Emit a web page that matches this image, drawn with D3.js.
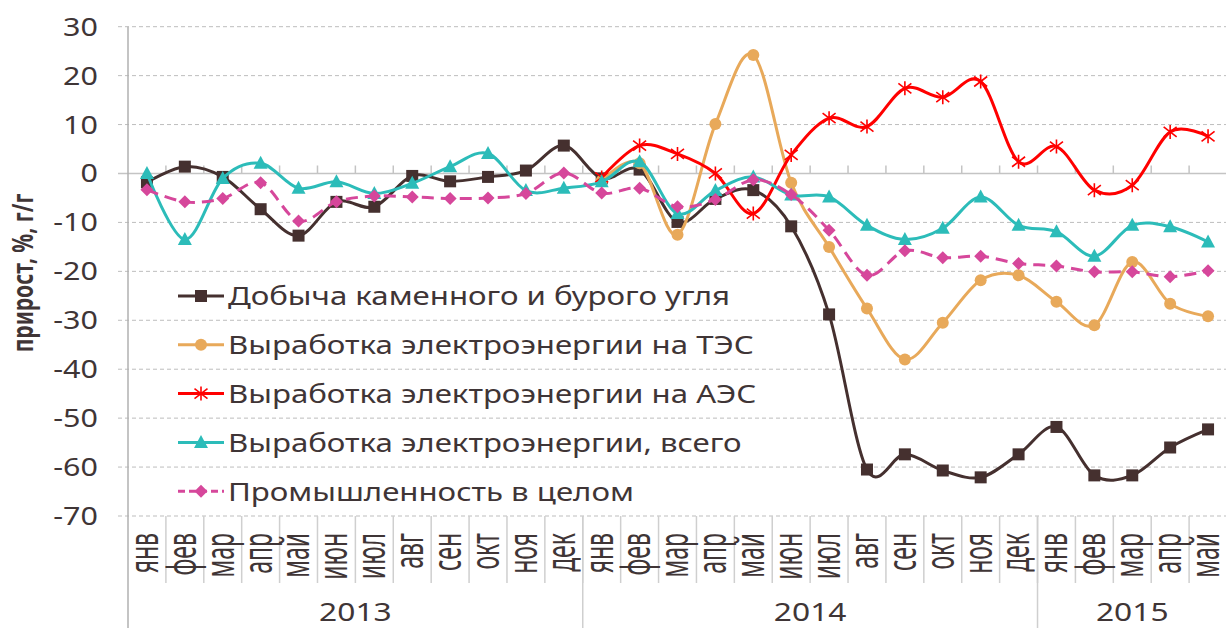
<!DOCTYPE html>
<html>
<head>
<meta charset="utf-8">
<script src="https://cdn.jsdelivr.net/npm/d3@7"></script>
<style>
  body { margin: 0; background: #fff; }
  text { font-family: "Noto Sans", "Open Sans", sans-serif; fill: #3f3536; }
</style>
</head>
<body>
<div id="container"></div>
<script>
// months and years on the category axis
const months = ["янв","фев","мар","апр","май","июн","июл","авг","сен","окт","ноя","дек",
                "янв","фев","мар","апр","май","июн","июл","авг","сен","окт","ноя","дек",
                "янв","фев","мар","апр","май"];
const years = [{label: "2013", from: 0, to: 12}, {label: "2014", from: 12, to: 24}, {label: "2015", from: 24, to: 29}];
const yTicks = [30, 20, 10, 0, -10, -20, -30, -40, -50, -60, -70];

// series values, %, y/y
const coal = [-1.8, 1.4, -0.7, -7.3, -12.7, -5.8, -6.8, -0.5, -1.6, -0.7, 0.6, 5.7,
              -1.0, 0.8, -9.9, -5.2, -3.4, -10.8, -28.8, -60.5, -57.4, -60.7, -62.1, -57.4,
              -51.8, -61.7, -61.7, -56.0, -52.3];
const tpp = [null, null, null, null, null, null, null, null, null, null, null, null,
             -1.5, 2.1, -12.5, 10.1, 24.2, -1.9, -15.0, -27.6, -38.0, -30.5, -21.8, -20.8,
             -26.2, -31.0, -18.1, -26.6, -29.2];
const npp = [null, null, null, null, null, null, null, null, null, null, null, null,
             -0.8, 5.7, 4.0, 0.0, -8.2, 3.8, 11.3, 9.6, 17.4, 15.6, 18.8, 2.4,
             5.5, -3.4, -2.4, 8.5, 7.6];
const power = [0.0, -13.5, -1.0, 2.1, -3.0, -1.7, -4.1, -2.0, 1.4, 4.1, -3.5, -3.0,
               -1.7, 2.4, -8.2, -3.5, -0.7, -4.4, -4.8, -10.6, -13.5, -11.2, -4.8, -10.6,
               -11.9, -16.9, -10.6, -10.9, -14.0];
const industry = [-3.3, -5.8, -5.1, -1.9, -9.7, -5.8, -4.6, -4.8, -5.1, -5.0, -4.1, 0.1,
                  -4.0, -3.0, -6.8, -5.3, -1.3, -4.3, -11.6, -20.8, -15.8, -17.2, -16.9, -18.4,
                  -18.9, -20.1, -20.1, -21.1, -19.9];

const seriesNames = ["Добыча каменного и бурого угля", "Выработка электроэнергии на ТЭС",
                     "Выработка электроэнергии на АЭС", "Выработка электроэнергии, всего",
                     "Промышленность в целом"];

document.addEventListener("DOMContentLoaded", function () {
    const width = 1226, height = 628;
    const left = 128, right = 1227, top = 26.7, bottom = 516;
    const sx = 1.22; // the source picture is stretched horizontally

    const svg = d3.select("#container").append("svg")
        .attr("width", width).attr("height", height);

    const series = [
        {name: seriesNames[0], values: coal, color: "#45302f", marker: "square", dash: null},
        {name: seriesNames[1], values: tpp, color: "#e8a95a", marker: "circle", dash: null},
        {name: seriesNames[2], values: npp, color: "#ff0000", marker: "star", dash: null},
        {name: seriesNames[3], values: power, color: "#2cbcb9", marker: "triangle", dash: null},
        {name: seriesNames[4], values: industry, color: "#d6479b", marker: "diamond", dash: "12,7"}
    ];

    //----------------------------SCALES-----------------------------//
    const xBand = d3.scaleBand().domain(d3.range(months.length)).range([left, right]);
    const xScale = i => xBand(i) + xBand.bandwidth() / 2;
    const yScale = d3.scaleLinear().domain([-70, 30]).range([bottom, top]);

    //----------------------------GRID-------------------------------//
    svg.append("g").selectAll("line")
        .data(yTicks.filter(d => d !== 0))
        .enter().append("line")
        .attr("x1", left - 10).attr("x2", right)
        .attr("y1", d => yScale(d)).attr("y2", d => yScale(d))
        .attr("stroke", "#bdbdbd").attr("stroke-width", 1)
        .attr("stroke-dasharray", "4,3");

    // category axis at zero with ticks above
    const bounds = d3.range(1, months.length + 1).map(i => left + i * xBand.bandwidth());
    svg.append("line")
        .attr("x1", left - 10).attr("x2", right)
        .attr("y1", yScale(0)).attr("y2", yScale(0))
        .attr("stroke", "#c4c4c4").attr("stroke-width", 1.5);
    svg.append("g").selectAll("line").data(bounds).enter().append("line")
        .attr("x1", d => d).attr("x2", d => d)
        .attr("y1", yScale(0) - 8).attr("y2", yScale(0))
        .attr("stroke", "#c4c4c4").attr("stroke-width", 1.5);

    // y axis line
    svg.append("line")
        .attr("x1", left).attr("x2", left).attr("y1", top).attr("y2", height)
        .attr("stroke", "#b0b0b0").attr("stroke-width", 1.5);

    // separators under the plot
    svg.append("g").selectAll("line").data(bounds).enter().append("line")
        .attr("x1", d => d).attr("x2", d => d)
        .attr("y1", bottom).attr("y2", 583)
        .attr("stroke", "#cfcfcf").attr("stroke-width", 1.5);
    svg.append("g").selectAll("line").data(years.slice(1)).enter().append("line")
        .attr("x1", d => xBand(d.from)).attr("x2", d => xBand(d.from))
        .attr("y1", bottom).attr("y2", height)
        .attr("stroke", "#cfcfcf").attr("stroke-width", 1.5);

    //-----------------------------TEXT------------------------------//
    svg.append("g").selectAll("text").data(yTicks).enter().append("text")
        .attr("transform", d => "translate(98," + yScale(d) + ") scale(" + sx + ",1)")
        .attr("text-anchor", "end").attr("dy", "0.36em")
        .style("font-size", "25px")
        .text(d => d);

    svg.append("text")
        .attr("transform", "translate(27,273) scale(1.4,1) rotate(-90)")
        .attr("text-anchor", "middle").attr("dy", "0.2em")
        .style("font-size", "21px").style("font-weight", "bold")
        .text("прирост, %, г/г");

    svg.append("g").selectAll("text").data(months).enter().append("text")
        .attr("transform", (d, i) => "translate(" + xScale(i) + ",533) scale(1.75,1) rotate(-90)")
        .attr("text-anchor", "end").attr("dy", "0.27em")
        .style("font-size", "23px")
        .text(d => d);

    svg.append("g").selectAll("text").data(years).enter().append("text")
        .attr("transform", d => "translate(" + (xBand(d.from) + xBand(d.to - 1) + xBand.bandwidth()) / 2 + ",621) scale(" + sx + ",1)")
        .attr("text-anchor", "middle")
        .style("font-size", "26px")
        .text(d => d.label);

    //----------------------------LINES------------------------------//
    const line = d3.line()
        .defined(d => d != null)
        .x((d, i) => xScale(i))
        .y(d => yScale(d))
        .curve(d3.curveCatmullRom.alpha(0));

    function drawMarker(g, type, color) {
        if (type === "square") {
            g.append("rect").attr("x", -6).attr("y", -6).attr("width", 12).attr("height", 12).attr("fill", color);
        } else if (type === "circle") {
            g.append("circle").attr("r", 6).attr("fill", color);
        } else if (type === "triangle") {
            g.append("path").attr("d", "M0,-7.5L7,5.5L-7,5.5Z").attr("fill", color);
        } else if (type === "diamond") {
            g.append("path").attr("d", "M0,-6.5L6.5,0L0,6.5L-6.5,0Z").attr("fill", color);
        } else if (type === "star") {
            g.append("path").attr("d", "M0,-7V7M-6.5,-5L6.5,5M-6.5,5L6.5,-5")
                .attr("stroke", color).attr("stroke-width", 1.6).attr("fill", "none");
        }
    }

    const lines = svg.selectAll(".series").data(series).enter().append("g").attr("class", "series");
    lines.append("path")
        .attr("d", d => line(d.values))
        .attr("fill", "none")
        .attr("stroke", d => d.color)
        .attr("stroke-width", 3)
        .attr("stroke-dasharray", d => d.dash);
    lines.each(function (s) {
        const g = d3.select(this);
        s.values.forEach(function (v, i) {
            if (v == null) return;
            drawMarker(g.append("g").attr("transform", "translate(" + xScale(i) + "," + yScale(v) + ")"), s.marker, s.color);
        });
    });

    //----------------------------LEGEND-----------------------------//
    const legend = svg.append("g").selectAll("g").data(series).enter().append("g")
        .attr("transform", (d, i) => "translate(178," + (296 + i * 48.8) + ")");
    legend.append("line")
        .attr("x1", 0).attr("x2", 46)
        .attr("stroke", d => d.color).attr("stroke-width", 3)
        .attr("stroke-dasharray", d => d.dash ? "7,4" : null);
    legend.each(function (s) {
        drawMarker(d3.select(this).append("g").attr("transform", "translate(23,0)"), s.marker, s.color);
    });
    legend.append("text")
        .attr("transform", "translate(50,0) scale(1.2,1)")
        .attr("dy", "0.36em")
        .style("font-size", "26px")
        .text(d => d.name);
});
</script>
</body>
</html>
